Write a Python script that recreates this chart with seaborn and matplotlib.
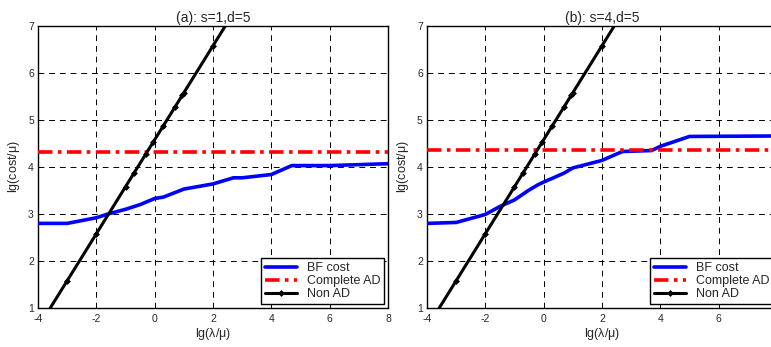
import matplotlib
matplotlib.use("Agg")
import matplotlib.pyplot as plt
import seaborn as sns

# lg(lambda/mu) sample points
x_bf = [-4, -3, -2, -1.6, -1, -0.5, 0, 0.3, 1, 2, 2.7, 3, 4, 4.7, 6, 8]
bf_a = [2.80, 2.80, 2.92, 3.0, 3.10, 3.20, 3.33, 3.36, 3.53, 3.64, 3.77, 3.77, 3.84, 4.03, 4.03, 4.07]

x_bf_b = [-4, -3, -2, -1.5, -1, -0.5, -0.2, 0, 0.3, 0.7, 1, 2, 2.7, 3.7, 4, 5, 8]
bf_b = [2.80, 2.82, 2.99, 3.16, 3.30, 3.51, 3.62, 3.68, 3.76, 3.87, 3.98, 4.14, 4.33, 4.35, 4.44, 4.65, 4.66]

x_ad = [-4, 8]
ad_a = [4.32, 4.32]
ad_b = [4.37, 4.37]

x_non = [-4, -3, -2, -1, -0.7, -0.3, -0.05, 0.3, 0.7, 0.95, 1, 2, 3]
non_ad = [0.58, 1.58, 2.58, 3.58, 3.88, 4.28, 4.53, 4.88, 5.28, 5.53, 5.58, 6.58, 7.58]

titles = ['(a): s=1,d=5', '(b): s=4,d=5']
xticks_a = [-4, -2, 0, 2, 4, 6, 8]
xticks_b = [-4, -2, 0, 2, 4, 6]

sns.set_style("white")
plt.rcParams['font.family'] = ['Liberation Sans', 'DejaVu Sans']
plt.rcParams['mathtext.fontset'] = 'custom'
plt.rcParams['mathtext.rm'] = 'Liberation Sans'
plt.rcParams['mathtext.it'] = 'Liberation Sans'
plt.rcParams['axes.unicode_minus'] = False

fig = plt.figure(figsize=(7.71, 3.47), dpi=100)
ax_a = fig.add_axes([0.0493, 0.1124, 0.454, 0.8127])
ax_b = fig.add_axes([0.5538, 0.1124, 0.454, 0.8127])

panels = [(ax_a, x_bf, bf_a, ad_a, xticks_a), (ax_b, x_bf_b, bf_b, ad_b, xticks_b)]
for i, (ax, xb, yb, yad, xt) in enumerate(panels):
    sns.lineplot(x=xb, y=yb, ax=ax, color='#0000ff', linewidth=2.6, label='BF cost', zorder=3)
    sns.lineplot(x=x_ad, y=yad, ax=ax, color='#ff0000', linewidth=2.6, label='Complete AD',
                 linestyle=(0, (4, 1.5, 1, 1.5)), zorder=3)
    sns.lineplot(x=x_non, y=non_ad, ax=ax, color='black', linewidth=2.2, marker='D',
                 markersize=3.5, markeredgewidth=0, label='Non AD', zorder=4)
    ax.set_xlim(-4, 8)
    ax.set_ylim(1, 7)
    ax.set_xticks(xt)
    ax.set_yticks([1, 2, 3, 4, 5, 6, 7])
    ax.grid(True, color='black', linestyle=(0, (6, 5)), linewidth=0.7)
    ax.tick_params(direction='in', length=3, labelsize=7.5, width=0.7, color='black')
    ax.tick_params(axis='x', pad=4)
    ax.tick_params(axis='y', pad=3)
    for s in ax.spines.values():
        s.set_color('black')
        s.set_linewidth(1)
    ax.set_title(titles[i], fontsize=10, pad=3)
    ax.set_xlabel(r'lg($\lambda$/$\mu$)', fontsize=9, labelpad=2)
    ax.set_ylabel(r'lg(cost/$\mu$)', fontsize=9, labelpad=4)
    leg = ax.legend(loc='lower right', fontsize=9, frameon=True, fancybox=False,
                    edgecolor='black', framealpha=1, borderpad=0.3, labelspacing=0.1,
                    handlelength=2.6, borderaxespad=0.3)
    leg.get_frame().set_linewidth(1)

fig.savefig('out.png', dpi=100)
